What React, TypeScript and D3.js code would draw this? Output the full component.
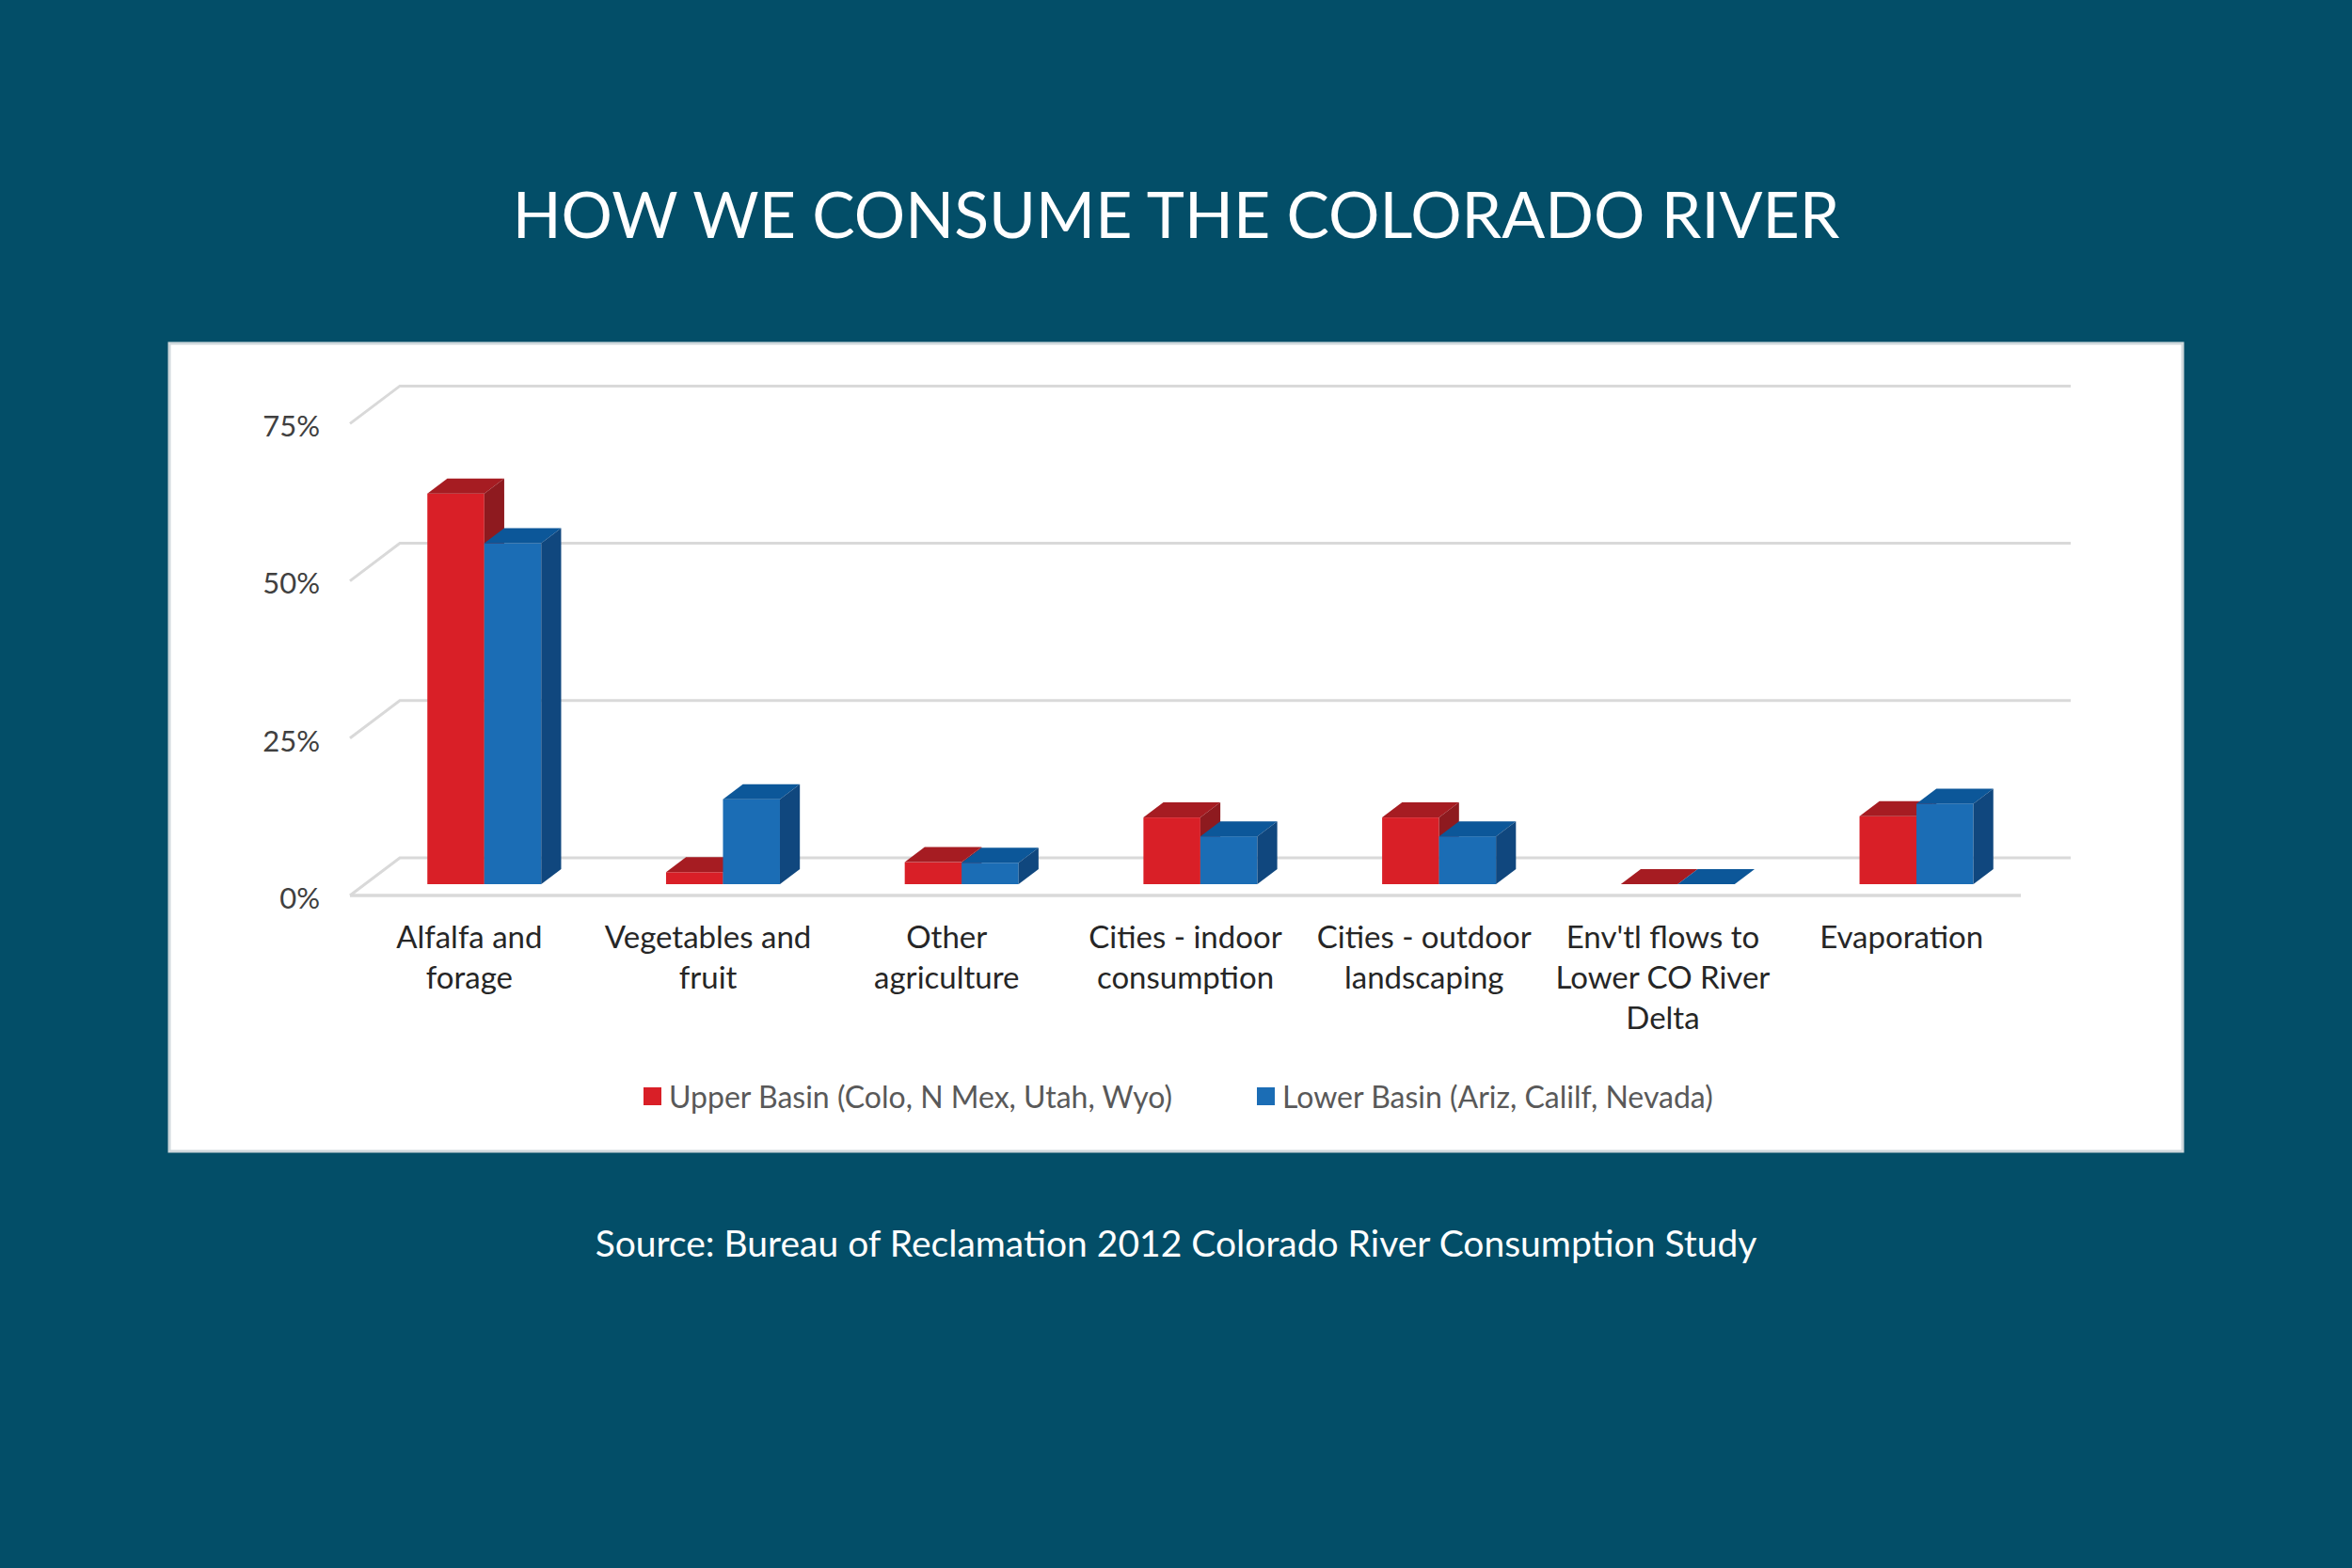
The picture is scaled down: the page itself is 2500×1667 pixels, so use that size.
import { useMemo } from "react";
import * as d3 from "d3";

const categories = [
  "Alfalfa and forage",
  "Vegetables and fruit",
  "Other agriculture",
  "Cities - indoor consumption",
  "Cities - outdoor landscaping",
  "Env'tl flows to Lower CO River Delta",
  "Evaporation",
];
const categoryLines = [
  ["Alfalfa and", "forage"],
  ["Vegetables and", "fruit"],
  ["Other", "agriculture"],
  ["Cities - indoor", "consumption"],
  ["Cities - outdoor", "landscaping"],
  ["Env'tl flows to", "Lower CO River", "Delta"],
  ["Evaporation"],
];
const seriesNames = [
  "Upper Basin (Colo, N Mex, Utah, Wyo)",
  "Lower Basin (Ariz, Calilf, Nevada)",
];
const upperBasin = [62.1, 1.9, 3.5, 10.6, 10.6, 0, 10.8];
const lowerBasin = [54.2, 13.5, 3.4, 7.6, 7.6, 0, 12.8];
const yTicks = [0, 25, 50, 75];

const W = 2500;
const H = 1667;
const BG = "#034e68";
const FONT = "Lato, 'Open Sans', sans-serif";

// oblique projection of the 3D floor
const FLOOR_LEFT = 372;
const FLOOR_RIGHT = 2148;
const DEPTH_X = 53;
const DEPTH_Y = -40;
const BAR_DEPTH_START = 0.3;
const BAR_DEPTH = 0.4;

const faces = [
  { front: "#d91f27", top: "#a61c22", side: "#8e1a1f" },
  { front: "#1b6db5", top: "#0c5799", side: "#10477e" },
];

const App = () => {
  const x = useMemo(
    () => d3.scaleBand<string>().domain(categories).range([FLOOR_LEFT, FLOOR_RIGHT]),
    []
  );
  const y = useMemo(() => d3.scaleLinear().domain([0, 75]).range([952, 450.4]), []);

  const band = x.bandwidth();
  const barW = band * 0.2385;
  const inset = (band - 2 * barW) / 2;
  const series = [upperBasin, lowerBasin];

  const fx = BAR_DEPTH_START * DEPTH_X;
  const fy = BAR_DEPTH_START * DEPTH_Y;
  const bx = BAR_DEPTH * DEPTH_X;
  const by = BAR_DEPTH * DEPTH_Y;

  const bars = categories.map((cat, i) => (
    <g key={cat}>
      {series.map((vals, s) => {
        const x0 = (x(cat) as number) + inset + s * barW + fx;
        const x1 = x0 + barW;
        const yt = y(vals[i]) + fy;
        const yb = y(0) + fy;
        const c = faces[s];
        const top = `M${x0},${yt}L${x0 + bx},${yt + by}L${x1 + bx},${yt + by}L${x1},${yt}Z`;
        const side = `M${x1},${yt}L${x1 + bx},${yt + by}L${x1 + bx},${yb + by}L${x1},${yb}Z`;
        return (
          <g key={s}>
            <rect x={x0} y={yt} width={barW} height={yb - yt} fill={c.front} />
            <path d={top} fill={c.top} />
            <path d={side} fill={c.side} />
          </g>
        );
      })}
    </g>
  ));

  const grid = yTicks.map((t) => {
    const yf = y(t);
    return (
      <g key={t}>
        <path
          d={`M${FLOOR_LEFT},${yf}L${FLOOR_LEFT + DEPTH_X},${yf + DEPTH_Y}L${FLOOR_RIGHT + DEPTH_X},${yf + DEPTH_Y}`}
          fill="none"
          stroke="#d9d9d9"
          strokeWidth={3}
        />
        {t === 0 && (
          <line x1={FLOOR_LEFT} x2={FLOOR_RIGHT} y1={yf} y2={yf} stroke="#d9d9d9" strokeWidth={3.5} />
        )}
        <text
          x={340}
          y={yf + 6}
          textAnchor="end"
          dominantBaseline="middle"
          fontSize={31}
          fill="#404040"
        >
          {t}%
        </text>
      </g>
    );
  });

  const labels = categories.map((cat, i) => (
    <text
      key={cat}
      x={(x(cat) as number) + band / 2}
      textAnchor="middle"
      fontSize={33}
      fill="#262626"
    >
      {categoryLines[i].map((ln, k) => (
        <tspan key={k} x={(x(cat) as number) + band / 2} y={1008 + k * 43}>
          {ln}
        </tspan>
      ))}
    </text>
  ));

  const legendX = [684, 1336];

  return (
    <svg
      width={W}
      height={H}
      style={{ position: "absolute", left: 0, top: 0, fontFamily: FONT }}
    >
      <rect width={W} height={H} fill={BG} />
      <text x={1250} y={236} textAnchor="middle" dominantBaseline="middle" fontSize={68} fill="white">
        HOW WE CONSUME THE COLORADO RIVER
      </text>
      <rect x={180} y={365} width={2140} height={859} fill="white" stroke="#cfd8dc" strokeWidth={3} />
      {grid}
      {bars}
      {labels}
      {seriesNames.map((name, s) => (
        <g key={name}>
          <rect x={legendX[s]} y={1156} width={19} height={19} fill={faces[s].front} />
          <text x={legendX[s] + 27} y={1170} dominantBaseline="middle" fontSize={32} fill="#595959">
            {name}
          </text>
        </g>
      ))}
      <text x={1250} y={1326} textAnchor="middle" dominantBaseline="middle" fontSize={39} fill="white">
        Source: Bureau of Reclamation 2012 Colorado River Consumption Study
      </text>
    </svg>
  );
};

export default App;
